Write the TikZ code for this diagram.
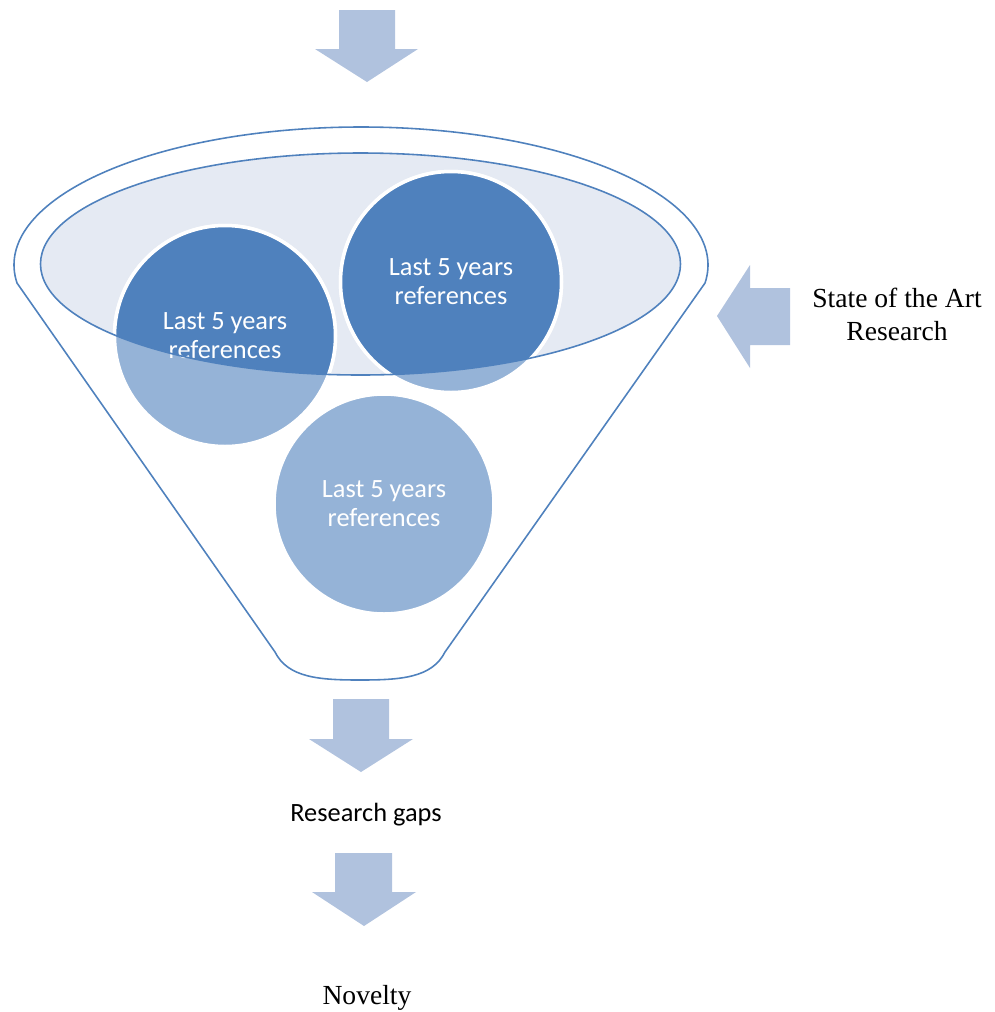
\documentclass[tikz,border=0pt]{standalone}
\usepackage{fontspec}
\setmainfont{Liberation Serif}
\newfontfamily\calibri{Carlito}
\definecolor{arrowblue}{RGB}{176,194,222}
\definecolor{funnelline}{RGB}{79,129,189}
\definecolor{lidfill}{RGB}{229,234,243}
\definecolor{refdark}{RGB}{79,129,189}
\definecolor{reflight}{RGB}{149,179,215}
\tikzset{
  blockarrow/.style={fill=arrowblue},
  refball/.style={draw=white, line width=0.07cm},
  reftext/.style={text=white, align=center, font=\calibri\fontsize{15}{16.5}\selectfont},
  sidetext/.style={align=center, font=\fontsize{15.7}{18.7}\selectfont}
}
\begin{document}
\begin{tikzpicture}[x=0.02cm,y=-0.02cm]
            \useasboundingbox (0,0) rectangle (995,1012);

            % arrow into the funnel
            \fill[blockarrow] (339,10) -- (395,10) -- (395,49) -- (418,49) -- (367,82) -- (315,49) -- (339,49) -- cycle;

            % lid of the funnel
            \fill[lidfill] (360.5,264) ellipse [x radius=320, y radius=111];

            % references
            \filldraw[refball, fill=reflight] (225,336) circle (110.5);
            \filldraw[refball, fill=reflight] (451,282) circle (110.5);
            \filldraw[refball, fill=reflight] (384,504) circle (110);
            \begin{scope}
                \clip (360.5,264) ellipse [x radius=320, y radius=111];
                \filldraw[refball, fill=refdark] (225,336) circle (110.5);
                \filldraw[refball, fill=refdark] (451,282) circle (110.5);
            \end{scope}
            \node[reftext] (ref1) at (225,336) {Last 5 years\\references};
            \node[reftext] (ref2) at (451,282) {Last 5 years\\references};
            \node[reftext] (ref3) at (384,504) {Last 5 years\\references};

            % funnel outline
            \draw[funnelline, line width=0.9pt] (360.5,264) ellipse [x radius=320, y radius=111];
            \draw[funnelline, line width=0.9pt] (17,283) arc [start angle=172.5, end angle=367.5, x radius=347, y radius=138]
                -- (445,652) .. controls (432,678) and (400,680) .. (360,680)
                .. controls (320,680) and (288,678) .. (275,652) -- cycle;

            % side input
            \fill[blockarrow] (717,316) -- (750,265) -- (750,288) -- (790,288) -- (790,345) -- (750,345) -- (750,368) -- cycle;
            \node[sidetext] (sota) at (897,314) {State of the Art\\Research};

            % outputs
            \fill[blockarrow] (333,699) -- (389,699) -- (389,739) -- (413,739) -- (361,772) -- (309,739) -- (333,739) -- cycle;
            \node[font=\calibri\fontsize{15}{16.5}\selectfont] (gaps) at (366,815) {Research gaps};
            \fill[blockarrow] (335,853) -- (392,853) -- (392,892) -- (416,892) -- (364,926) -- (312,892) -- (335,892) -- cycle;
            \node[sidetext] (novelty) at (367,998) {Novelty};
        \end{tikzpicture}
\end{document}
